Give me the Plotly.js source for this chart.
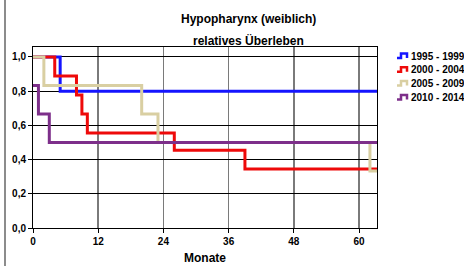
<!DOCTYPE html>
<html><head><meta charset="utf-8">
<script src="https://cdn.plot.ly/plotly-3.0.1.min.js"></script>
<style>html,body{margin:0;padding:0;background:#fff}#chart{width:464px;height:266px}</style>
</head><body><div id="chart"></div>
<script>
var seriesNames = ['1995 - 1999', '2000 - 2004', '2005 - 2009', '2010 - 2014'];
var seriesColors = ['#1414ff', '#ee0a0a', '#d9cfa2', '#7d2f8a'];
var months1995 = [0, 5, 63.3];
var surv1995 = [1.0, 0.8, 0.8];
var months2000 = [0, 4, 8, 9, 10, 26, 39, 63.3];
var surv2000 = [1.0, 0.889, 0.778, 0.667, 0.556, 0.455, 0.345, 0.345];
var months2005 = [0, 2, 20, 23, 62, 63.3];
var surv2005 = [1.0, 0.833, 0.667, 0.5, 0.333, 0.333];
var months2010 = [0, 1, 3, 63.3];
var surv2010 = [0.833, 0.667, 0.5, 0.5];
var xTicks = [0, 12, 24, 36, 48, 60];
var yTicks = [0, 0.2, 0.4, 0.6, 0.8, 1.0];
var yTickText = ['0,0', '0,2', '0,4', '0,6', '0,8', '1,0'];
var titleLines = ['Hypopharynx (weiblich)', 'relatives Überleben'];
var xTitle = 'Monate';

var FONT = '"Liberation Sans", Arial, sans-serif';
var xs = [months1995, months2000, months2005, months2010];
var ys = [surv1995, surv2000, surv2005, surv2010];
var traces = xs.map(function (x, i) {
  return {x: x, y: ys[i], type: 'scatter', mode: 'lines', name: seriesNames[i],
    line: {shape: 'hv', color: seriesColors[i], width: 3}};
});
var L = 33, R = 87, T = 47, B = 38, W = 464, H = 266;
var pw = W - L - R, ph = H - T - B;
function px2x(p) { return (p - L) / pw; }
function px2y(p) { return (H - B - p) / ph; }

var annotations = [
  {text: '<b>' + titleLines[0] + '</b>', xref: 'paper', yref: 'paper', x: px2x(248), y: px2y(19),
    xanchor: 'center', yanchor: 'middle', showarrow: false, font: {family: FONT, size: 12, color: '#000'}},
  {text: '<b>' + titleLines[1] + '</b>', xref: 'paper', yref: 'paper', x: px2x(248), y: px2y(40),
    xanchor: 'center', yanchor: 'middle', showarrow: false, font: {family: FONT, size: 12, color: '#000'}},
  {text: '<b>' + xTitle + '</b>', xref: 'paper', yref: 'paper', x: px2x(205), y: px2y(258),
    xanchor: 'center', yanchor: 'middle', showarrow: false, font: {family: FONT, size: 12, color: '#000'}}
];
var shapes = [{type: 'line', xref: 'paper', yref: 'paper', x0: px2x(5), x1: px2x(5),
  y0: px2y(H), y1: px2y(0), line: {color: '#8c8c8c', width: 2}}];

// custom legend with step-shaped symbols
seriesNames.forEach(function (name, i) {
  var yc = 56 + i * 13.8;
  var pts = [[397, yc + 2], [401, yc + 2], [401, yc - 2.5], [407, yc - 2.5], [407, yc + 2]];
  var d = pts.map(function (p, k) { return (k ? 'L' : 'M') + px2x(p[0]) + ',' + px2y(p[1]); }).join(' ');
  shapes.push({type: 'path', xref: 'paper', yref: 'paper', path: d,
    line: {color: seriesColors[i], width: 2.5}});
  annotations.push({text: '<b>' + name + '</b>', xref: 'paper', yref: 'paper', x: px2x(409), y: px2y(yc),
    xanchor: 'left', yanchor: 'middle', showarrow: false, xshift: 0,
    font: {family: FONT, size: 10, color: '#000'}});
});

var layout = {
  width: W, height: H,
  margin: {l: L, r: R, t: T, b: B, pad: 0, autoexpand: false},
  paper_bgcolor: '#fff', plot_bgcolor: '#fff',
  font: {family: FONT, size: 10, color: '#000'},
  showlegend: false,
  xaxis: {range: [0, 63.3], tickvals: xTicks, ticktext: xTicks.map(String),
    showgrid: true, gridcolor: '#7a7a7a', gridwidth: 1.5,
    showline: true, linecolor: '#000', linewidth: 1, mirror: true,
    ticks: 'outside', ticklen: 4, tickcolor: '#000',
    tickfont: {family: FONT, size: 10, color: '#000', weight: 'bold'},
    zeroline: false, fixedrange: true, automargin: false},
  yaxis: {range: [0, 1.058], tickvals: yTicks, ticktext: yTickText,
    showgrid: true, gridcolor: '#000', gridwidth: 1,
    showline: true, linecolor: '#000', linewidth: 1, mirror: true,
    ticks: 'outside', ticklen: 4, tickcolor: '#000',
    tickfont: {family: FONT, size: 10, color: '#000', weight: 'bold'},
    zeroline: false, fixedrange: true, automargin: false},
  annotations: annotations,
  shapes: shapes
};
Plotly.newPlot('chart', traces, layout, {displayModeBar: false, staticPlot: true});
</script></body></html>
